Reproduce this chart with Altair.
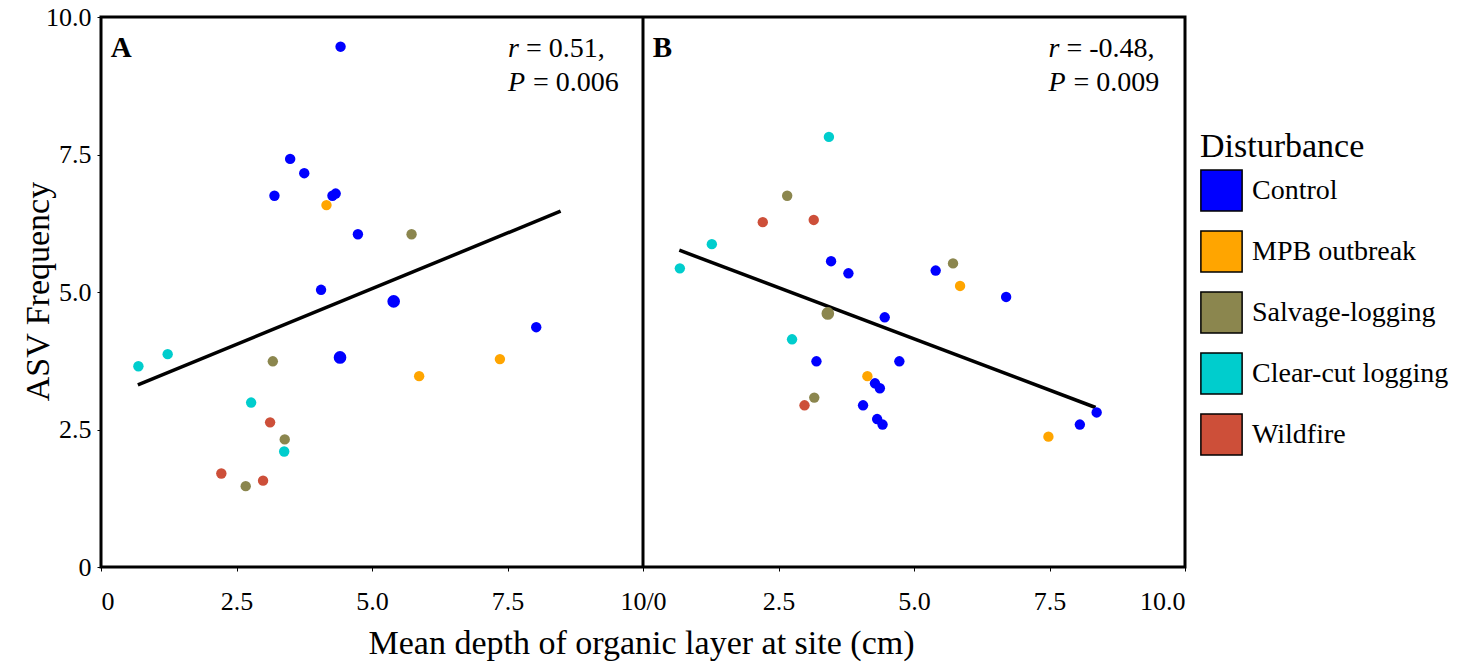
import altair as alt
import pandas as pd

categories = ["Control", "MPB outbreak", "Salvage-logging", "Clear-cut logging", "Wildfire"]
colors = ["#0000FF", "#FFA500", "#8B864E", "#00CDCD", "#CD4F39"]

# Panel A
a_group = (["Control"] * 11 + ["MPB outbreak"] * 3 + ["Salvage-logging"] * 4
           + ["Clear-cut logging"] * 4 + ["Wildfire"] * 3)
a_depth = [4.42, 3.49, 3.75, 3.20, 4.27, 4.33, 4.74, 4.06, 5.40, 8.03, 4.41,
           4.16, 7.36, 5.87,
           5.73, 3.17, 3.39, 2.67,
           0.69, 1.23, 2.77, 3.38,
           3.12, 2.22, 2.99]
a_freq = [9.46, 7.42, 7.16, 6.75, 6.75, 6.79, 6.05, 5.04, 4.83, 4.36, 3.81,
          6.58, 3.78, 3.47,
          6.05, 3.74, 2.32, 1.47,
          3.65, 3.87, 2.99, 2.10,
          2.63, 1.70, 1.57]
a_n = [1, 1, 1, 1, 1, 1, 1, 1, 2, 1, 2,
       1, 1, 1,
       1, 1, 1, 1,
       1, 1, 1, 1,
       1, 1, 1]

# Panel B
b_group = (["Control"] * 14 + ["MPB outbreak"] * 3 + ["Salvage-logging"] * 4
           + ["Clear-cut logging"] * 4 + ["Wildfire"] * 3)
b_depth = [3.47, 3.79, 5.40, 6.70, 4.46, 3.20, 4.73, 4.28, 4.37, 4.06, 4.32, 4.42, 8.37, 8.06,
           5.85, 4.14, 7.48,
           2.66, 5.72, 3.41, 3.16,
           3.43, 1.27, 0.68, 2.75,
           2.21, 3.15, 2.98]
b_freq = [5.56, 5.34, 5.39, 4.91, 4.54, 3.74, 3.74, 3.34, 3.25, 2.94, 2.69, 2.59, 2.81, 2.59,
          5.11, 3.47, 2.37,
          6.75, 5.52, 4.61, 3.08,
          7.82, 5.87, 5.43, 4.14,
          6.27, 6.31, 2.94]
b_n = [1] * 14 + [1] * 3 + [1, 1, 2, 1] + [1] * 4 + [1] * 3

# Regression line endpoints
line_panel = ["A", "A", "B", "B"]
line_depth = [0.68, 8.48, 0.67, 8.35]
line_freq = [3.31, 6.47, 5.76, 2.90]

# Annotations
letter_text = ["A", "B"]
letter_panel = ["A", "B"]
letter_depth = [0.18, 0.18]
letter_freq = [9.27, 9.27]

stat_panel = ["A", "A", "B", "B"]
stat_sym = ["r", "P", "r", "P"]
stat_val = ["= 0.51,", "= 0.006", "= -0.48,", "= 0.009"]
stat_depth = [7.51, 7.51, 7.48, 7.48]
stat_freq = [9.27, 8.65, 9.27, 8.65]

divider = [10]

panel_offset = "datum.panel == 'B' ? datum.depth + 10 : datum.depth"

pts = pd.DataFrame({
    "panel": ["A"] * len(a_depth) + ["B"] * len(b_depth),
    "Disturbance": a_group + b_group,
    "depth": a_depth + b_depth,
    "freq": a_freq + b_freq,
    "n": a_n + b_n,
})
lines = pd.DataFrame({"panel": line_panel, "depth": line_depth, "freq": line_freq})
letters = pd.DataFrame({"panel": letter_panel, "text": letter_text,
                        "depth": letter_depth, "freq": letter_freq})
stats = pd.DataFrame({"panel": stat_panel, "sym": stat_sym, "val": stat_val,
                      "depth": stat_depth, "freq": stat_freq})
div = pd.DataFrame({"xpos": divider})

FONT = "Liberation Serif"

x_label_expr = ("datum.value == 0 ? '0' : datum.value == 10 ? '10/0' : "
                "datum.value > 10 ? format(datum.value - 10, '.1f') : format(datum.value, '.1f')")

xenc = alt.X("xpos:Q",
             scale=alt.Scale(domain=[0, 20], nice=False, zero=False),
             axis=alt.Axis(values=[0, 2.5, 5, 7.5, 10, 12.5, 15, 17.5, 20],
                           labelExpr=x_label_expr, grid=False, domain=False,
                           tickSize=4, tickColor="black", tickWidth=1,
                           labelPadding=17, labelFontSize=26,
                           labelFont=FONT, titleFont=FONT,
                           labelColor="black", titleColor="black",
                           titleFontWeight="normal",
                           title="Mean depth of organic layer at site (cm)",
                           titleFontSize=34, titleX=540, titleY=76,
                           titleBaseline="middle"))
yenc = alt.Y("freq:Q",
             scale=alt.Scale(domain=[0, 10], nice=False),
             axis=alt.Axis(values=[0, 2.5, 5, 7.5, 10],
                           labelExpr="datum.value == 0 ? '0' : format(datum.value, '.1f')",
                           grid=False, domain=False, tickSize=4, tickColor="black",
                           labelPadding=6, labelFontSize=26,
                           labelFont=FONT, titleFont=FONT,
                           labelColor="black", titleColor="black",
                           titleFontWeight="normal",
                           title="ASV Frequency", titleFontSize=34,
                           titleX=-63, titleY=274, titleBaseline="middle",
                           titleAngle=-90, titleAlign="center"))

base_pts = alt.Chart(pts).transform_calculate(xpos=panel_offset)

points = base_pts.mark_circle(opacity=1).encode(
    x=xenc,
    y=yenc,
    color=alt.Color("Disturbance:N",
                    scale=alt.Scale(domain=categories, range=colors),
                    legend=alt.Legend(title="Disturbance", orient="none",
                                      legendX=1099, legendY=113,
                                      symbolType="square", symbolSize=1700,
                                      symbolStrokeColor="black", symbolStrokeWidth=1.5,
                                      symbolOpacity=1, labelLimit=400,
                                      titleFontSize=34, labelFontSize=28,
                                      titleFont=FONT, labelFont=FONT,
                                      titleFontWeight="normal", titleColor="black",
                                      labelColor="black", rowPadding=12,
                                      labelOffset=9, titlePadding=5)),
    size=alt.Size("n:Q", scale=alt.Scale(domain=[1, 2], range=[108, 160]), legend=None),
)

reg = alt.Chart(lines).transform_calculate(xpos=panel_offset).mark_line(
    color="black", strokeWidth=3.5).encode(
    x="xpos:Q", y="freq:Q", detail="panel:N")

rule = alt.Chart(div).mark_rule(color="black", strokeWidth=3).encode(x="xpos:Q")

letter_layer = alt.Chart(letters).transform_calculate(xpos=panel_offset).mark_text(
    font=FONT, fontSize=29, fontWeight="bold", align="left", baseline="alphabetic",
    color="black").encode(x="xpos:Q", y="freq:Q", text="text:N")

sym_layer = alt.Chart(stats).transform_calculate(xpos=panel_offset).mark_text(
    font=FONT, fontSize=28, fontStyle="italic", align="left", baseline="alphabetic",
    color="black").encode(x="xpos:Q", y="freq:Q", text="sym:N")

val_r = alt.Chart(stats).transform_filter("datum.sym == 'r'").transform_calculate(
    xpos=panel_offset).mark_text(
    font=FONT, fontSize=28, align="left", baseline="alphabetic", dx=18,
    color="black").encode(x="xpos:Q", y="freq:Q", text="val:N")

val_p = alt.Chart(stats).transform_filter("datum.sym == 'P'").transform_calculate(
    xpos=panel_offset).mark_text(
    font=FONT, fontSize=28, align="left", baseline="alphabetic", dx=25,
    color="black").encode(x="xpos:Q", y="freq:Q", text="val:N")

chart = alt.layer(reg, rule, points, letter_layer, sym_layer, val_r, val_p).properties(
    width=1084, height=550,
    autosize=alt.AutoSizeParams(type="none"),
    padding={"left": 101, "top": 17, "right": 291, "bottom": 98},
).configure(
    background="white"
).configure_view(
    stroke="black", strokeWidth=3
)

chart.save("out.html", embed_options={"renderer": "svg", "actions": False})
